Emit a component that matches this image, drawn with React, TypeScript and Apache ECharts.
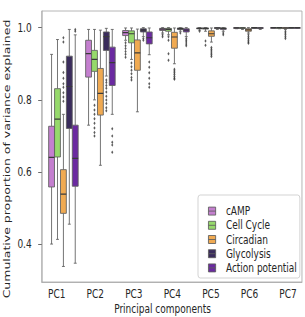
import React, { useEffect, useRef } from "react";
import * as echarts from "echarts";

// ---- data -------------------------------------------------------------
const PCS = ["PC1", "PC2", "PC3", "PC4", "PC5", "PC6", "PC7"];
const GROUPS = ["cAMP", "Cell Cycle", "Circadian", "Glycolysis", "Action potential"];
const Y_TICKS = [0.4, 0.6, 0.8, 1.0];

// [low whisker, Q1, median, Q3, high whisker] for PC1..PC7
const cAMPBoxes = [
  [0.401, 0.559, 0.641, 0.727, 0.926],
  [0.73, 0.863, 0.928, 0.965, 0.995],
  [0.965, 0.978, 0.986, 0.992, 0.999],
  [0.985, 0.992, 0.996, 0.998, 1.0],
  [0.993, 0.997, 0.998, 0.999, 1.0],
  [0.997, 0.999, 0.9995, 1.0, 1.0],
  [0.998, 0.999, 1.0, 1.0, 1.0],
];
const cellCycleBoxes = [
  [0.414, 0.642, 0.747, 0.831, 0.967],
  [0.8, 0.879, 0.912, 0.937, 0.995],
  [0.912, 0.958, 0.983, 0.991, 0.999],
  [0.98, 0.99, 0.995, 0.998, 1.0],
  [0.99, 0.996, 0.998, 0.999, 1.0],
  [0.995, 0.998, 0.999, 1.0, 1.0],
  [0.997, 0.999, 1.0, 1.0, 1.0],
];
const circadianBoxes = [
  [0.339, 0.486, 0.539, 0.607, 0.76],
  [0.619, 0.758, 0.818, 0.887, 0.993],
  [0.767, 0.882, 0.93, 0.966, 0.996],
  [0.9, 0.943, 0.974, 0.987, 0.999],
  [0.96, 0.976, 0.983, 0.991, 0.999],
  [0.985, 0.99, 0.994, 0.997, 1.0],
  [0.995, 0.998, 0.999, 1.0, 1.0],
];
const glycolysisBoxes = [
  [0.456, 0.721, 0.837, 0.921, 0.995],
  [0.866, 0.937, 0.975, 0.988, 0.998],
  [0.975, 0.988, 0.993, 0.997, 1.0],
  [0.99, 0.995, 0.997, 0.999, 1.0],
  [0.995, 0.998, 0.999, 1.0, 1.0],
  [0.998, 0.999, 1.0, 1.0, 1.0],
  [0.999, 1.0, 1.0, 1.0, 1.0],
];
const actionPotentialBoxes = [
  [0.348, 0.561, 0.638, 0.73, 0.98],
  [0.76, 0.84, 0.903, 0.946, 0.995],
  [0.925, 0.955, 0.972, 0.988, 0.999],
  [0.975, 0.988, 0.993, 0.997, 1.0],
  [0.99, 0.995, 0.998, 0.999, 1.0],
  [0.995, 0.998, 0.999, 1.0, 1.0],
  [0.998, 0.999, 1.0, 1.0, 1.0],
];

// outliers as [PC index, value]
const cAMPFliers = [
  [2, 0.958], [2, 0.95], [2, 0.942], [2, 0.934], [2, 0.926], [2, 0.918],
  [3, 0.98], [3, 0.975], [4, 0.99],
];
const cellCycleFliers = [
  [1, 0.785], [1, 0.772], [1, 0.76], [1, 0.748], [1, 0.735], [1, 0.722], [1, 0.71], [1, 0.7],
  [2, 0.902], [2, 0.892], [2, 0.882], [2, 0.872], [2, 0.862], [2, 0.855],
  [3, 0.975], [3, 0.965], [3, 0.928], [3, 0.91],
  [4, 0.963], [4, 0.951],
];
const circadianFliers = [
  [0, 0.972], [0, 0.96], [0, 0.905], [0, 0.876], [0, 0.86], [0, 0.845], [0, 0.835],
  [0, 0.82], [0, 0.808], [0, 0.796],
  [3, 0.885], [3, 0.88], [3, 0.875], [3, 0.87], [3, 0.865], [3, 0.86], [3, 0.857],
  [4, 0.945], [4, 0.94], [4, 0.935], [4, 0.93], [4, 0.925], [4, 0.92],
  [5, 0.98], [5, 0.975], [5, 0.97], [5, 0.965], [5, 0.96], [5, 0.957],
  [6, 0.99], [6, 0.985], [6, 0.98], [6, 0.975], [6, 0.97],
];
const glycolysisFliers = [
  [1, 0.855], [1, 0.848], [1, 0.84], [1, 0.832], [1, 0.822], [1, 0.81], [1, 0.8],
  [1, 0.79], [1, 0.778], [1, 0.77],
  [2, 0.97], [2, 0.965], [3, 0.985],
];
const actionPotentialFliers = [
  [0, 0.99], [0, 0.995],
  [1, 0.72], [1, 0.7], [1, 0.683], [1, 0.675], [1, 0.655],
  [2, 0.905], [2, 0.89], [2, 0.875], [2, 0.86], [2, 0.845], [2, 0.835],
  [3, 0.97], [3, 0.965], [3, 0.96], [3, 0.955], [3, 0.95],
  [4, 0.985], [4, 0.98],
];

// ---- styling ------------------------------------------------------------
const COLORS = ["#c47fcf", "#96d96b", "#f0aa52", "#3a2c5c", "#6b2aa1"];
const EDGE = "#5e5e5e";
const MEDIAN = "#3a3a3a";
const FONT = "DejaVu Sans";
const FONT_SIZE = 12.5;
const TEXT = "#262626";

// The figure is laid out wide and then squeezed horizontally.
const SQUEEZE = 0.72;
const WIDTH = 424;
const HEIGHT = 317;

const SLOT = 0.16;
const BOX_W = 0.158;

const boxSets = [cAMPBoxes, cellCycleBoxes, circadianBoxes, glycolysisBoxes, actionPotentialBoxes];
const flierSets = [cAMPFliers, cellCycleFliers, circadianFliers, glycolysisFliers, actionPotentialFliers];

function renderBox(params: any, api: any) {
  const x = api.value(0);
  const lo = api.coord([x, api.value(1)]);
  const q1 = api.coord([x, api.value(2)]);
  const md = api.coord([x, api.value(3)]);
  const q3 = api.coord([x, api.value(4)]);
  const hi = api.coord([x, api.value(5)]);
  const w = api.size([BOX_W, 0])[0];
  const cx = lo[0];
  const edge = { stroke: EDGE, lineWidth: 1 };
  return {
    type: "group",
    children: [
      { type: "line", shape: { x1: cx, y1: hi[1], x2: cx, y2: q3[1] }, style: edge },
      { type: "line", shape: { x1: cx, y1: q1[1], x2: cx, y2: lo[1] }, style: edge },
      { type: "line", shape: { x1: cx - w / 4, y1: hi[1], x2: cx + w / 4, y2: hi[1] }, style: edge },
      { type: "line", shape: { x1: cx - w / 4, y1: lo[1], x2: cx + w / 4, y2: lo[1] }, style: edge },
      {
        type: "rect",
        shape: { x: cx - w / 2, y: q3[1], width: w, height: Math.max(q1[1] - q3[1], 0.8) },
        style: { fill: api.visual("color"), stroke: EDGE, lineWidth: 1 },
      },
      {
        type: "line",
        shape: { x1: cx - w / 2, y1: md[1], x2: cx + w / 2, y2: md[1] },
        style: { stroke: MEDIAN, lineWidth: 1.2 },
      },
    ],
  };
}

function buildOption() {
  const series: any[] = [];
  GROUPS.forEach((name, g) => {
    const offset = (g - 2) * SLOT;
    series.push({
      type: "custom",
      name,
      xAxisIndex: 1,
      yAxisIndex: 0,
      itemStyle: { color: COLORS[g] },
      data: boxSets[g].map((b, i) => [i + offset, ...b]),
      encode: { x: 0, y: [1, 2, 3, 4, 5] },
      renderItem: renderBox,
      z: 2,
    });
    series.push({
      type: "scatter",
      name: `${name} fliers`,
      xAxisIndex: 1,
      yAxisIndex: 0,
      data: flierSets[g].map(([i, v]) => [i + offset, v]),
      symbol: "diamond",
      symbolSize: [3, 3.5],
      itemStyle: { color: "#333" },
      silent: true,
      z: 3,
    });
  });

  return {
    animation: false,
    grid: {
      left: 58,
      right: 4.6,
      top: 11,
      bottom: 35,
      show: true,
      borderColor: "#aaa",
      borderWidth: 1,
    },
    xAxis: [
      {
        type: "value",
        min: -0.39,
        max: 6.364,
        axisLine: { show: true, onZero: false, lineStyle: { color: "#aaa" } },
        axisTick: { show: false },
        splitLine: { show: false },
        axisLabel: {
          customValues: PCS.map((_, i) => i),
          formatter: (v: number) => PCS[Math.round(v)] ?? "",
          fontFamily: FONT,
          fontSize: FONT_SIZE,
          color: TEXT,
          margin: 5,
        },
      },
      {
        type: "value",
        min: -0.585,
        max: 6.447,
        show: false,
      },
    ],
    yAxis: {
      type: "value",
      min: 0.296,
      max: 1.046,
      axisLine: { show: true, onZero: false, lineStyle: { color: "#aaa" } },
      axisTick: { show: true, length: 5, customValues: Y_TICKS, lineStyle: { color: "#555" } },
      splitLine: { show: false },
      axisLabel: {
        customValues: Y_TICKS,
        formatter: (v: number) => v.toFixed(1),
        fontFamily: FONT,
        fontSize: FONT_SIZE,
        color: TEXT,
        margin: 14,
      },
    },
    legend: {
      orient: "vertical",
      left: 275,
      top: 195,
      data: GROUPS.map((name, g) => ({
        name,
        icon: "path://M0,0H10V8H0Z M0,4H10",
        itemStyle: { color: COLORS[g], borderColor: EDGE, borderWidth: 1 },
      })),
      itemWidth: 12.5,
      itemHeight: 8,
      itemGap: 0,
      padding: [9, 4, 3, 14],
      selectedMode: false,
      borderColor: "#ccc",
      borderWidth: 1,
      borderRadius: 3,
      backgroundColor: "rgba(255,255,255,0.85)",
      textStyle: {
        fontFamily: FONT,
        fontSize: FONT_SIZE,
        color: TEXT,
        lineHeight: 14.2,
        padding: [0, 0, 0, 8],
      },
    },
    graphic: [
      {
        type: "text",
        x: 10.4,
        y: 159,
        rotation: Math.PI / 2,
        style: {
          text: "Cumulative proportion of variance explained",
          fontFamily: FONT,
          fontSize: FONT_SIZE,
          fill: TEXT,
          align: "center",
          verticalAlign: "middle",
        },
      },
      {
        type: "text",
        x: 225.7,
        y: 309,
        style: {
          text: "Principal components",
          fontFamily: FONT,
          fontSize: FONT_SIZE,
          fill: TEXT,
          align: "center",
          verticalAlign: "middle",
        },
      },
    ],
    series,
  };
}

export default function App() {
  const ref = useRef<HTMLDivElement>(null);

  useEffect(() => {
    document.body.style.overflow = "hidden";
    if (!ref.current) return;
    const chart = echarts.init(ref.current, undefined, { renderer: "svg" });
    chart.setOption(buildOption() as any);
    return () => chart.dispose();
  }, []);

  return (
    <div
      ref={ref}
      style={{
        position: "absolute",
        left: 0,
        top: 0,
        width: WIDTH,
        height: HEIGHT,
        transform: `scaleX(${SQUEEZE})`,
        transformOrigin: "0 0",
        background: "#fff",
      }}
    />
  );
}
